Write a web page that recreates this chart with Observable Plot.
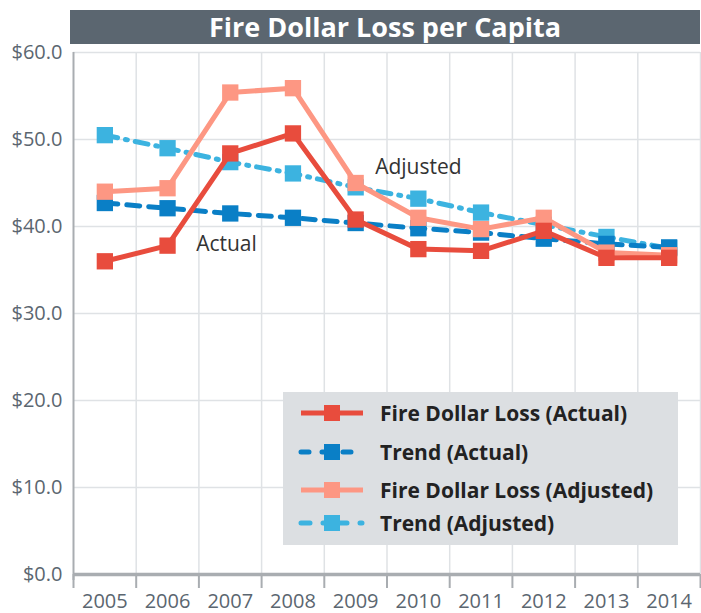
<!DOCTYPE html>
<html><head><meta charset="utf-8">
<script src="https://cdn.jsdelivr.net/npm/d3@7"></script>
<script src="https://cdn.jsdelivr.net/npm/@observablehq/plot@0.6"></script>
<style>
body{margin:0;background:#fff;font-family:"Open Sans",sans-serif;}
#wrap{position:relative;width:701px;height:613px;overflow:hidden;}
#title{position:absolute;left:70px;top:10px;width:630px;height:34px;background:#5b6670;color:#fff;font-weight:700;font-size:27px;line-height:34px;text-align:center;}
#chart{position:absolute;left:0;top:44px;}
#legend{position:absolute;left:283px;top:392px;width:395px;height:153px;background:#dcdfe2;}
.row{position:absolute;left:0;height:30px;display:flex;align-items:center;}
.row span{position:absolute;left:97px;white-space:nowrap;font-weight:700;font-size:21px;color:#222;}
.row svg{position:absolute;left:14px;}
</style></head>
<body><div id="wrap"><div id="title">Fire Dollar Loss per Capita</div><div id="chart"></div><div id="legend"></div></div>
<script>
const years = [2005, 2006, 2007, 2008, 2009, 2010, 2011, 2012, 2013, 2014];
const actual = [36.0, 37.8, 48.4, 50.7, 40.8, 37.4, 37.2, 39.5, 36.4, 36.4];
const adjusted = [44.0, 44.4, 55.4, 55.9, 45.0, 41.0, 39.7, 41.0, 37.0, 36.7];
const trendActual = [42.7, 42.1, 41.5, 41.0, 40.4, 39.8, 39.3, 38.6, 38.0, 37.6];
const trendAdjusted = [50.5, 49.0, 47.4, 46.1, 44.5, 43.2, 41.6, 40.2, 38.8, 37.5];
const yTicks = [0, 10, 20, 30, 40, 50, 60];
const seriesNames = ["Fire Dollar Loss (Actual)", "Trend (Actual)", "Fire Dollar Loss (Adjusted)", "Trend (Adjusted)"];
const colors = ["#e84c3d", "#0a7fc6", "#fd9783", "#3cb3e0"];
const dashes = [null, "13,9", null, "13,8,2,8"];
const annotations = [{text: "Actual", year: 2006.94, value: 38.0}, {text: "Adjusted", year: 2010.0, value: 46.8}];

const seriesValues = [actual, trendActual, adjusted, trendAdjusted];
const series = seriesValues.map((vals, i) => ({name: seriesNames[i], color: colors[i], dash: dashes[i], data: years.map((y, j) => ({year: y, value: vals[j]}))}));
const bounds = [years[0] - 0.5, ...years.map(y => y + 0.5)];
const drawOrder = [3, 1, 2, 0];

const marks = [
  Plot.ruleY(yTicks.slice(1), {stroke: "#dfe2e5", strokeWidth: 1.5}),
  Plot.ruleX(bounds.slice(1), {stroke: "#dfe2e5", strokeWidth: 1.5}),
  Plot.axisY({ticks: yTicks, tickSize: 0, tickPadding: 11, tickFormat: d => "$" + d.toFixed(1), fontSize: 20, fill: "#5b6670", label: null}),
  Plot.axisX({ticks: bounds, tickSize: 14, tickFormat: () => "", stroke: "#a9adb1", strokeWidth: 2, label: null}),
  Plot.axisX({ticks: years, tickSize: 0, tickPadding: 19, tickFormat: d => String(d), fontSize: 20, fill: "#5b6670", label: null}),
  Plot.ruleX([bounds[0]], {y1: -0.7, y2: 60, stroke: "#a9adb1", strokeWidth: 2}),
  Plot.ruleY([0], {stroke: "#a9adb1", strokeWidth: 3.5}),
];
for (const i of drawOrder) {
  const s = series[i];
  marks.push(Plot.line(s.data, {x: "year", y: "value", stroke: s.color, strokeWidth: 5, strokeDasharray: s.dash, strokeLinecap: s.dash ? "round" : "butt", strokeLinejoin: "round"}));
  marks.push(Plot.dot(s.data, {x: "year", y: "value", symbol: "square", r: 9.2, fill: s.color, stroke: "none"}));
}
marks.push(Plot.text(annotations, {x: "year", y: "value", text: "text", fontSize: 21, fill: "#333", fontFamily: "Open Sans"}));

const chart = Plot.plot({
  width: 701, height: 569,
  marginTop: 8, marginBottom: 39, marginLeft: 73, marginRight: 1,
  x: {domain: [bounds[0], bounds[bounds.length - 1]], axis: null},
  y: {domain: [0, 60], axis: null},
  style: {fontFamily: "Open Sans", background: "transparent", overflow: "visible"},
  marks
});
document.getElementById("chart").appendChild(chart);

const legend = document.getElementById("legend");
const rowTops = [6, 45, 83, 116];
const legendOrder = [0, 1, 2, 3];
legendOrder.forEach((i, k) => {
  const s = series[i];
  const row = document.createElement("div");
  row.className = "row";
  row.style.top = rowTops[k] + "px";
  row.style.width = "395px";
  const dash = s.dash ? `stroke-dasharray="${s.dash === "13,9" ? "8,13" : "9,13,2,13"}" stroke-linecap="round"` : "";
  row.innerHTML = `<svg width="70" height="30"><line x1="4" x2="66" y1="15" y2="15" stroke="${s.color}" stroke-width="5" ${dash}/><rect x="27" y="7" width="16" height="16" fill="${s.color}"/></svg><span>${s.name}</span>`;
  legend.appendChild(row);
});
</script></body></html>
